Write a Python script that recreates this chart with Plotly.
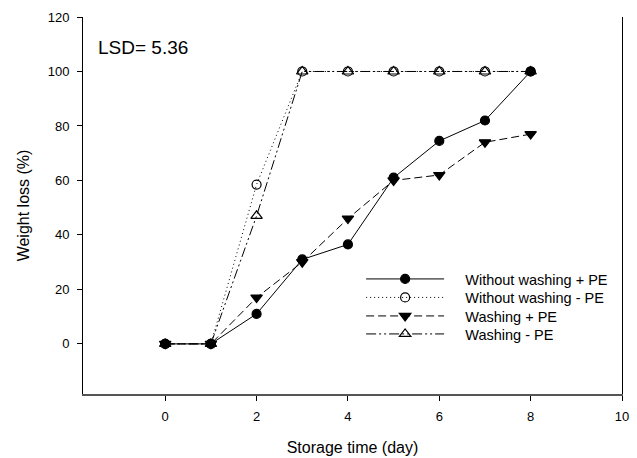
import plotly.graph_objects as go

days = [0, 1, 2, 3, 4, 5, 6, 7, 8]
wo_wash_pe = [0, 0, 11, 31, 36.5, 61, 74.5, 82, 100]
wo_wash_nope = [0, 0, 58.5, 100, 100, 100, 100, 100, 100]
wash_pe = [0, 0, 17, 30, 46, 60, 62, 74, 77]
wash_nope = [0, 0, 47, 100, 100, 100, 100, 100, 100]

names = ["Without washing + PE", "Without washing - PE", "Washing + PE", "Washing - PE"]
series = [wo_wash_pe, wo_wash_nope, wash_pe, wash_nope]
symbols = ["circle", "circle-open", "triangle-down", "triangle-up-open"]
dashes = ["solid", "1px,3px", "8px,4px", "10px,3px,2px,3px,2px,3px"]
sizes = [9, 9, 10, 10]

pad = "\u00a0" * 4
legend_ids = ["legend", "legend2", "legend3", "legend4"]
row_px = [279, 297.5, 316, 334]   # legend row centres (pixels from top)
plot_top, plot_bottom = 17, 394

fig = go.Figure()
for n, s, sym, d, sz, lg in zip(names, series, symbols, dashes, sizes, legend_ids):
    fig.add_trace(go.Scatter(
        x=days, y=s, name=pad + n, mode="lines+markers", legend=lg,
        line=dict(color="black", width=1, dash=d),
        marker=dict(symbol=sym, size=sz, color="black",
                    line=dict(color="black", width=1.2)),
    ))

fig.add_annotation(text="LSD= 5.36", x=0.025, y=0.92, xref="paper", yref="paper",
                   xanchor="left", yanchor="middle", showarrow=False,
                   font=dict(size=19, color="black", family="Liberation Sans, Arial"))

legend_cfg = {}
for lg, yp in zip(legend_ids, row_px):
    legend_cfg[lg] = dict(x=0.516, y=(plot_bottom - yp) / (plot_bottom - plot_top),
                          xanchor="left", yanchor="middle",
                          bgcolor="rgba(0,0,0,0)", itemwidth=78,
                          font=dict(size=14.5))

fig.update_layout(
    width=637, height=458,
    margin=dict(l=83, r=15, t=plot_top, b=458 - plot_bottom),
    paper_bgcolor="white", plot_bgcolor="white",
    font=dict(family="Liberation Sans, Arial", size=13, color="black"),
    showlegend=True,
    xaxis=dict(range=[-1.8, 10], tickvals=[0, 2, 4, 6, 8, 10],
               showgrid=False, zeroline=False, showline=True, linecolor="#555",
               linewidth=1.5, ticks="outside", ticklen=5, tickcolor="black",
               ticklabelstandoff=5, automargin=False,
               title=dict(text="Storage time (day)", font=dict(size=16), standoff=18)),
    yaxis=dict(range=[-18.4, 120], tickvals=[0, 20, 40, 60, 80, 100, 120],
               showgrid=False, zeroline=False, showline=True, linecolor="black",
               linewidth=1, mirror=True, ticks="outside", ticklen=5, tickcolor="black",
               ticklabelstandoff=5, automargin=False,
               title=dict(text="Weight loss (%)", font=dict(size=16), standoff=14)),
    **legend_cfg,
)

fig.write_html("out.html")
